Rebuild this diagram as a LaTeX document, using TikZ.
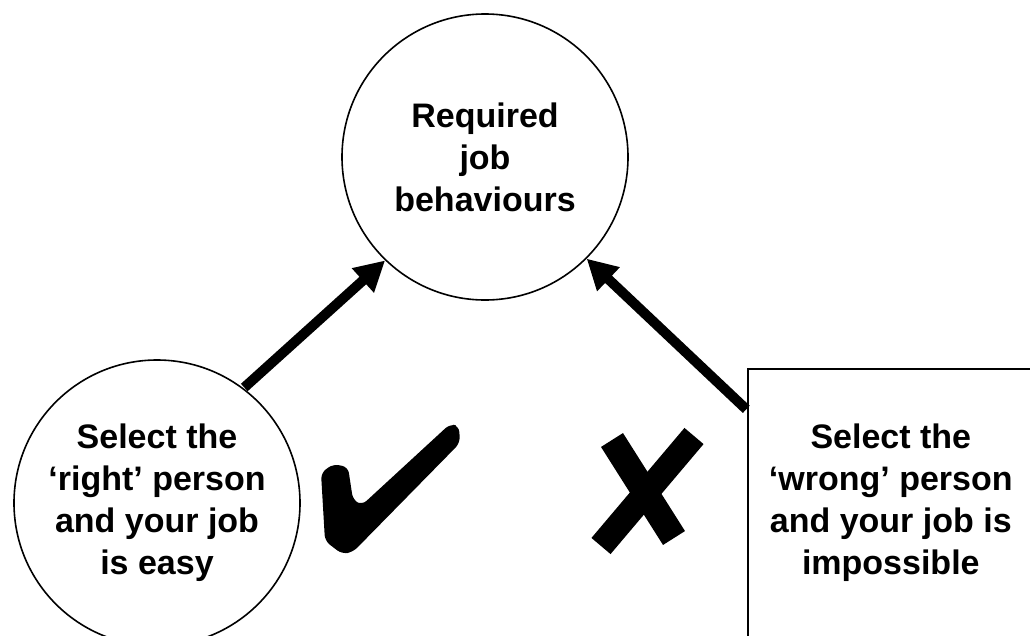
\documentclass[tikz,border=0pt]{standalone}
\usepackage{fontspec}
\setmainfont{Liberation Sans}
\usepackage{tikz}
\usetikzlibrary{arrows.meta,positioning,shapes}

\begin{document}
\begin{tikzpicture}[
  x=1pt, y=-1pt,
  every node/.style={draw, line width=1.6pt, align=center, inner sep=0pt, font=\fontsize{34}{42}\selectfont\bfseries},
  bubble/.style={circle, minimum size=286pt},
  panel/.style={rectangle, anchor=north west, minimum width=286pt, minimum height=268pt},
  arr/.style={-{Triangle[length=30pt, width=31pt]}, line width=10pt, shorten <=1pt},
]
  \useasboundingbox (0,0) rectangle (1030,635);
  \clip (0,0) rectangle (1030,635);
  \fill[white] (0,0) rectangle (1030,635);

  \node[bubble] (req) at (485,157) {Required\\job\\behaviours};
  \node[bubble] (right) at (157,503) {Select the\\‘right’ person\\and your job\\is easy};
  \node[panel] (wrong) at (747,368) {Select the\\‘wrong’ person\\and your job is\\impossible};

  \draw[arr] (right.53) -- (req.226);
  \draw[arr] ([yshift=-42pt]wrong.north west) -- (req.315);

  % tick and cross
  \fill[rounded corners=6pt] (321,473) -- (333,464) -- (348,467) -- (353,500) -- (362,505)
    -- (450,424) -- (459,426) -- (460,443) -- (353,552) -- (342,554) -- (325,541) -- cycle;
  \draw[line width=26pt] (612,440) -- (674,538);
  \draw[line width=25pt] (694,436) -- (601,546);
\end{tikzpicture}
\end{document}
